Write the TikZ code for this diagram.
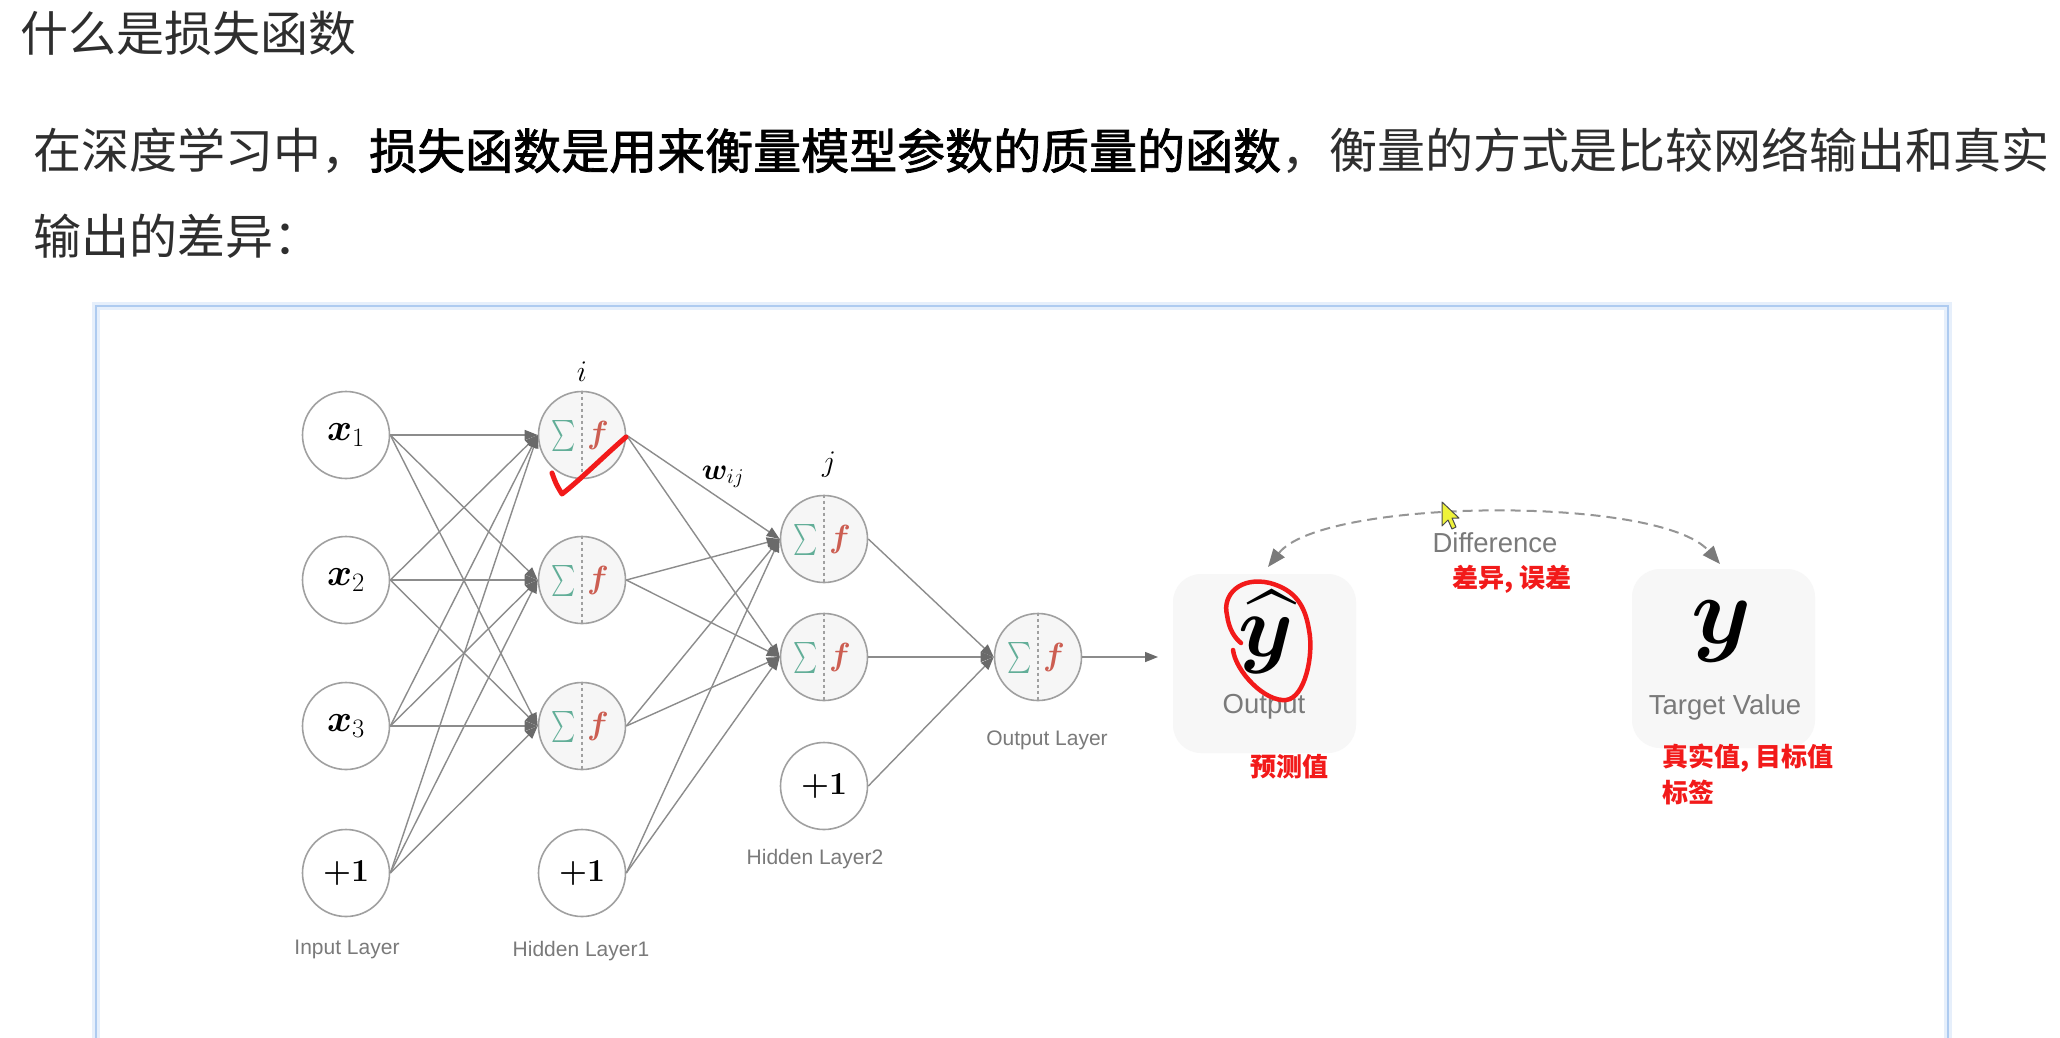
\RequirePackage{fix-cm}
\documentclass[tikz,border=0pt]{standalone}
\usepackage{amsmath,bm}
\usepackage{fontspec}
\newfontfamily\cjk{Noto Sans CJK SC}
\newfontfamily\cjkfb{Noto Sans CJK SC}[FakeBold=1.6]
\newfontfamily\lab{Liberation Sans}
\usetikzlibrary{arrows.meta}
\definecolor{txt}{HTML}{2E2E2E}
\definecolor{edgec}{HTML}{8C8C8C}
\definecolor{tipc}{HTML}{6A6A6A}
\definecolor{circc}{HTML}{A0A0A0}
\definecolor{neurf}{HTML}{F6F6F6}
\definecolor{sumc}{HTML}{62AE98}
\definecolor{fc}{HTML}{CC5E52}
\definecolor{labc}{HTML}{7A7A7A}
\definecolor{annred}{HTML}{F21A1A}
\definecolor{frameb}{HTML}{AECBF0}
\definecolor{frameg}{HTML}{E6EFFB}
\definecolor{boxf}{HTML}{F7F7F7}
\definecolor{cursorc}{HTML}{EEF23A}
\tikzset{
  inp/.style={circle, draw=circc, fill=white, line width=1.6pt, minimum size=87pt, inner sep=0pt, font=\fontsize{38}{42}\selectfont},
  biasn/.style={inp, font=\fontsize{32}{36}\selectfont},
  neur/.style={circle, draw=circc, fill=neurf, line width=1.6pt, minimum size=87pt, inner sep=0pt},
  sumsty/.style={inner sep=0pt, text=sumc, font=\fontsize{10}{12}\selectfont},
  fsty/.style={inner sep=0pt, text=fc, font=\fontsize{32}{36}\selectfont},
  conn/.style={draw=edgec, line width=1.4pt, -{Triangle[length=13pt,width=10pt,color=tipc]}},
  layerlab/.style={inner sep=0pt, text=labc, font=\lab\fontsize{21}{25}\selectfont},
  biglab/.style={inner sep=0pt, text=labc, font=\lab\fontsize{27.5}{32}\selectfont},
  redtxt/.style={inner sep=0pt, text=annred, font=\cjk\bfseries\fontsize{26}{30}\selectfont},
  valbox/.style={rounded corners=28pt, fill=boxf, draw=none, minimum width=183pt, minimum height=179pt},
  mathlab/.style={inner sep=0pt, font=\fontsize{30}{34}\selectfont}
}
\begin{document}
\begin{tikzpicture}[x=1pt,y=-1pt]
\useasboundingbox (0,0) rectangle (2060,1037);
\fill[white] (0,0) rectangle (2060,1037);

% heading text
\node[anchor=west, inner sep=0pt, text=txt, font=\cjk\fontsize{48}{56}\selectfont] (title) at (20,33) {什么是损失函数};
\node[anchor=west, inner sep=0pt, text=txt, font=\cjk\fontsize{48}{56}\selectfont] (para1) at (33,151) {在深度学习中，{\cjkfb\color{black}损失函数是用来衡量模型参数的质量的函数}，衡量的方式是比较网络输出和真实};
\node[anchor=west, inner sep=0pt, text=txt, font=\cjk\fontsize{48}{56}\selectfont] (para2) at (33,236) {输出的差异：};

% frame
\draw[frameg, line width=8pt] (96,1045) -- (96,306) -- (1948,306) -- (1948,1045);
\draw[frameb, line width=2.5pt] (96,1045) -- (96,306) -- (1948,306) -- (1948,1045);

% input layer
\node[inp] (x1) at (346,435) {$\bm{x}_1$};
\node[inp] (x2) at (346,580) {$\bm{x}_2$};
\node[inp] (x3) at (346,726) {$\bm{x}_3$};
\node[biasn] (b0) at (346,873) {$\bm{+1}$};
% hidden layer 1
\node[neur] (h1) at (582,435) {};
\node[neur] (h2) at (582,580) {};
\node[neur] (h3) at (582,726) {};
\node[biasn] (b1) at (582,873) {$\bm{+1}$};
% hidden layer 2
\node[neur] (g1) at (824,539) {};
\node[neur] (g2) at (824,657) {};
\node[biasn] (b2) at (824,786) {$\bm{+1}$};
% output
\node[neur] (o) at (1038,657) {};
\coordinate (oend) at (1158,657);

\foreach \n in {h1,h2,h3,g1,g2,o}{
  \draw[dashed, draw=circc, line width=1.2pt] (\n.north) -- (\n.south);
  \node[sumsty] (\n-s) at ([xshift=-18pt,yshift=-1pt]\n.center) {\scalebox{2.3}[3.1]{$\textstyle\sum$}};
  \node[fsty] (\n-f) at ([xshift=16pt]\n.center) {$\bm{f}$};
}

% connections
\foreach \s in {x1,x2,x3,b0}{
  \foreach \t in {h1,h2,h3}{
    \draw[conn] (\s.east) -- (\t.west);
  }
}
\foreach \s in {h1,h2,h3,b1}{
  \foreach \t in {g1,g2}{
    \draw[conn] (\s.east) -- (\t.west);
  }
}
\foreach \s in {g1,g2,b2}{
  \draw[conn] (\s.east) -- (o.west);
}
\draw[conn] (o.east) -- (oend);

% small labels
\node[mathlab] (ilab) at (582,372) {$i$};
\node[mathlab] (jlab) at (829,465) {$j$};
\node[mathlab] (wlab) at (723,477) {$\bm{w}_{ij}$};
\node[layerlab] (lin) at (347,949) {Input Layer};
\node[layerlab] (lh1) at (581,951) {Hidden Layer1};
\node[layerlab] (lh2) at (815,859) {Hidden Layer2};
\node[layerlab] (lout) at (1047,740) {Output Layer};

% output and target boxes
\node[valbox] (outbox) at (1264.5,663.5) {};
\node[valbox] (tgtbox) at (1723.5,658.5) {};
\node[inner sep=0pt, anchor=base, font=\fontsize{10}{12}\selectfont] (yhat) at (1266,656) {\scalebox{8.8}{$\bm{\widehat{y}}$}};
\node[inner sep=0pt, anchor=base, font=\fontsize{96}{100}\selectfont] (ytrue) at (1722,643) {$\bm{y}$};
\node[biglab] (outtxt) at (1264,707) {Output};
\node[biglab] (tgttxt) at (1725,707) {Target Value};

% difference arc
\coordinate (da) at (1268,567);
\coordinate (db) at (1720,564);
\draw[draw=labc!80, line width=2pt, dash pattern=on 10pt off 6pt,
  {Triangle[length=18pt,width=14pt,color=labc]}-{Triangle[length=18pt,width=14pt,color=labc]}]
  (da) .. controls (1322,498) and (1660,495) .. (db);
\node[biglab] (difftxt) at (1495,543) {Difference};

% cursor
\filldraw[fill=cursorc, draw=black!70, line width=1pt, line join=round]
  (1442,502) -- (1442,526) -- (1448,520) -- (1452,529) -- (1456,527) -- (1452,518) -- (1459,518) -- cycle;

% red annotations
\draw[annred, line width=5pt, line cap=round, line join=round]
  (552,473) .. controls (556,484) .. (562,494) .. controls (580,480) and (605,455) .. (626,437);
\draw[annred, line width=4.5pt, line cap=round, line join=round]
  (1233,650) .. controls (1236,672) and (1265,702) .. (1286,700)
  .. controls (1305,698) and (1314,655) .. (1309,630)
  .. controls (1305,605) and (1295,590) .. (1270,583)
  .. controls (1240,576) and (1222,595) .. (1227,615)
  .. controls (1229,630) and (1235,638) .. (1241,643);
\node[redtxt] (diffcn) at (1512,579) {差异, 误差};
\node[redtxt] (predcn) at (1289,767) {预测值};
\node[redtxt, anchor=west] (truecn) at (1662,758) {真实值, 目标值};
\node[redtxt, anchor=west] (labelcn) at (1662,792) {标签};
\end{tikzpicture}
\end{document}
